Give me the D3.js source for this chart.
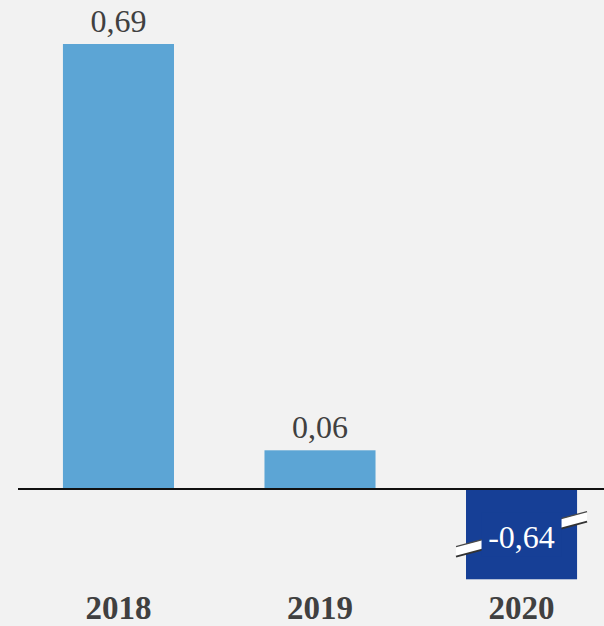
<!DOCTYPE html>
<html>
<head>
<meta charset="utf-8">
<script src="https://cdn.jsdelivr.net/npm/d3@7/dist/d3.min.js"></script>
<style>
  html, body { margin: 0; padding: 0; background: #f2f2f2; }
  svg { display: block; }
</style>
</head>
<body>
<svg id="chart" width="604" height="626"></svg>
<script>
// Yearly change values
const years = ["2018", "2019", "2020"];
const values = [0.69, 0.06, -0.64];
const valueLabels = ["0,69", "0,06", "-0,64"];
const barColors = ["#5ca5d5", "#5ca5d5", "#163f96"];
// Bars below this value are cut with a break mark
const breakFloor = -0.14;

const W = 604, H = 626;
const svg = d3.select("#chart");
svg.append("rect").attr("width", W).attr("height", H).attr("fill", "#f2f2f2");

const x = d3.scaleBand()
  .domain(years)
  .range([18, 622])
  .paddingInner(0.449)
  .paddingOuter(0.223);

const y = d3.scaleLinear()
  .domain([0, 0.69])
  .range([489, 44]);

const fontFamily = "'Liberation Serif', 'Times New Roman', serif";

const data = years.map((yr, i) => ({
  year: yr, value: values[i], label: valueLabels[i], color: barColors[i],
  shown: Math.max(values[i], breakFloor), broken: values[i] < breakFloor
}));

// Bars
svg.selectAll("rect.bar").data(data).enter().append("rect")
  .attr("class", "bar")
  .attr("x", d => x(d.year))
  .attr("width", x.bandwidth())
  .attr("y", d => y(Math.max(0, d.shown)))
  .attr("height", d => Math.abs(y(d.shown) - y(0)))
  .attr("fill", d => d.color);

// Break marks on truncated bars
data.filter(d => d.broken).forEach(d => {
  const cx = x(d.year) + x.bandwidth() / 2;
  const cy = (y(0) + y(d.shown)) / 2;
  const half = x.bandwidth() / 2 + 10;
  const rise = 17.5;
  const x0 = cx - half, x1 = cx + half;
  const y0 = cy + rise, y1 = cy - rise;
  const t = 5;
  // white strip
  svg.append("path")
    .attr("d", `M${x0},${y0 - t}L${x1},${y1 - t}L${x1},${y1 + t}L${x0},${y0 + t}Z`)
    .attr("fill", "#ffffff");
  // edges of the strip
  svg.append("line")
    .attr("x1", x0).attr("y1", y0 - t)
    .attr("x2", x1).attr("y2", y1 - t)
    .attr("stroke", "#4a4a4a").attr("stroke-width", 1.3);
  svg.append("line")
    .attr("x1", x0).attr("y1", y0 + t)
    .attr("x2", x1).attr("y2", y1 + t)
    .attr("stroke", "#333333").attr("stroke-width", 2);
  // label backing in bar colour
  svg.append("rect")
    .attr("x", cx - 40).attr("y", cy - 22)
    .attr("width", 80).attr("height", 44)
    .attr("fill", d.color);
});

// Zero axis line
svg.append("line")
  .attr("x1", 18).attr("x2", 604)
  .attr("y1", y(0)).attr("y2", y(0))
  .attr("stroke", "#111111").attr("stroke-width", 2);

// Value labels
svg.selectAll("text.val").data(data).enter().append("text")
  .attr("class", "val")
  .attr("x", d => x(d.year) + x.bandwidth() / 2)
  .attr("y", d => d.broken ? (y(0) + y(d.shown)) / 2 + 14 : y(d.shown) - 12)
  .attr("text-anchor", "middle")
  .attr("font-family", fontFamily)
  .attr("font-size", 32)
  .attr("fill", d => d.broken ? "#ffffff" : "#404040")
  .text(d => d.label);

// Category labels
svg.selectAll("text.cat").data(data).enter().append("text")
  .attr("class", "cat")
  .attr("x", d => x(d.year) + x.bandwidth() / 2)
  .attr("y", 619)
  .attr("text-anchor", "middle")
  .attr("font-family", fontFamily)
  .attr("font-weight", "bold")
  .attr("font-size", 33)
  .attr("fill", "#404040")
  .text(d => d.year);
</script>
</body>
</html>
